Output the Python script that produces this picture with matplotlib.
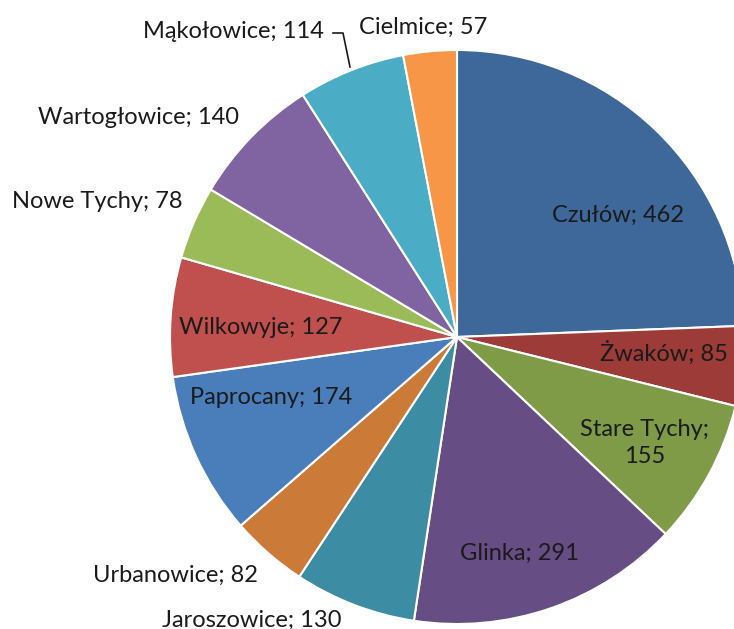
import matplotlib
matplotlib.use("Agg")
import matplotlib.pyplot as plt
import numpy as np

categories = ["Czułów", "Żwaków", "Stare Tychy", "Glinka", "Jaroszowice", "Urbanowice",
              "Paprocany", "Wilkowyje", "Nowe Tychy", "Wartogłowice", "Mąkołowice", "Cielmice"]
values = [462, 85, 155, 291, 130, 82, 174, 127, 78, 140, 114, 57]
colors = ["#3E6899", "#9C3B38", "#7F9B48", "#664D84", "#3C8CA3", "#CC7A38",
          "#4A7EBB", "#C0504D", "#9BBB59", "#8064A2", "#4BACC6", "#F79646"]

# layout (image pixel coords, y downward)
W, H = 734, 629
cx, cy, R = 457, 337, 287
label_pos = [(618, 215), (664, 353), (645, 443), (519, 553), (252, 620), (175, 575),
             (271, 398), (261, 328), (97, 202), (139, 117), (233, 32), (423, 27)]
label_text = [f"{c}; {v}" for c, v in zip(categories, values)]
label_text[2] = "Stare Tychy;\n155"

plt.rcParams['font.family'] = ['Lato', 'DejaVu Sans']
fig = plt.figure(figsize=(W / 100, H / 100), dpi=100)
ax = fig.add_axes([0, 0, 1, 1])
ax.set_xlim(0, W)
ax.set_ylim(0, H)
ax.axis('off')

ax.pie(values, colors=colors, startangle=90, counterclock=False,
       center=(cx, H - cy), radius=R,
       wedgeprops=dict(edgecolor='white', linewidth=1.5))
ax.set_xlim(0, W)
ax.set_ylim(0, H)
ax.set_aspect('equal')

for (x, y), t in zip(label_pos, label_text):
    ax.text(x, H - y, t, ha='center', va='center', fontsize=17, color='#1a1a1a',
            linespacing=1.4)

# leader line for Mąkołowice
ax.plot([333, 343, 350], [H - 33, H - 33, H - 67], color='#1a1a1a', lw=1.2)

fig.savefig("out.png", dpi=100)
